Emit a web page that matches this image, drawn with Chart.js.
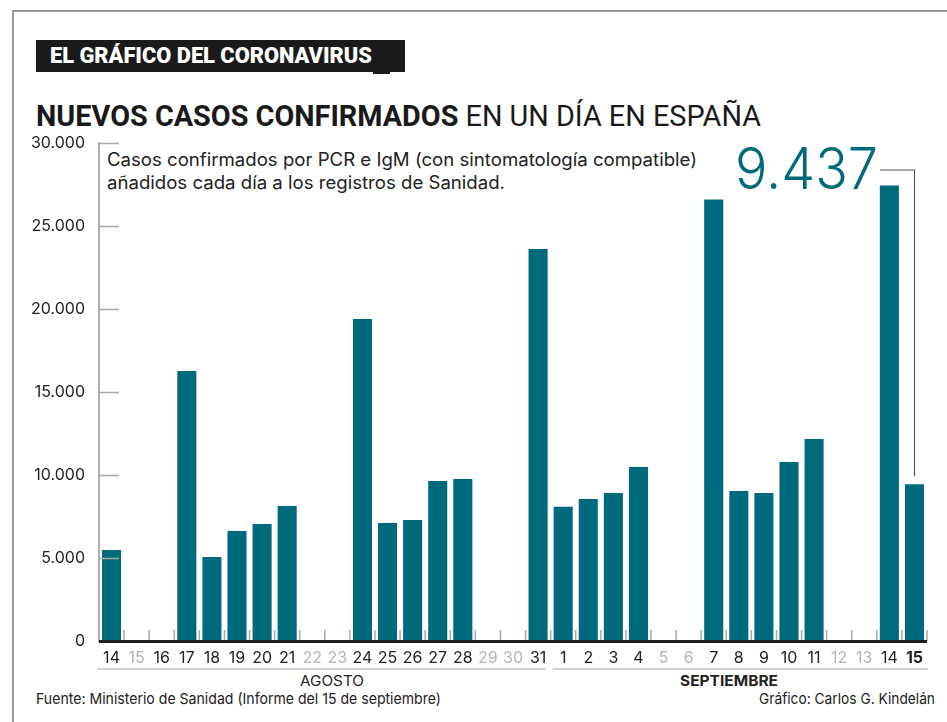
<!DOCTYPE html>
<html>
<head>
<meta charset="utf-8">
<script src="https://cdn.jsdelivr.net/npm/chart.js@4/dist/chart.umd.min.js"></script>
<style>
  html,body{margin:0;padding:0;background:#fff;}
  #wrap{position:relative;width:947px;height:722px;overflow:hidden;font-family:Inter,Roboto,sans-serif;color:#222;}
  #c{position:absolute;left:0;top:0;}
  .abs{position:absolute;white-space:nowrap;}
  .fit{display:inline-block;transform-origin:0 0;}
</style>
</head>
<body>
<div id="wrap">
  <div class="abs" style="left:13px;top:10px;width:934px;height:0;border-top:2px solid #9a9a9a;"></div>
  <div class="abs" style="left:12px;top:10px;width:0;height:712px;border-left:2px solid #9a9a9a;"></div>
  <div class="abs" style="left:36px;top:40px;width:369px;height:32px;background:#1a1a1a;"></div>
  <div class="abs" style="left:373px;top:70px;width:17px;height:4px;background:#1a1a1a;"></div>
  <div class="abs" style="left:50px;top:43px;font-family:Roboto;font-weight:900;font-size:22px;color:#fff;line-height:26px;"><span class="fit" data-w="322">EL GRÁFICO DEL CORONAVIRUS</span></div>
  <div class="abs" style="left:36px;top:99px;font-family:Roboto;font-size:30px;line-height:34px;color:#1a1a1a;"><span class="fit" data-w="725"><b style="font-weight:700">NUEVOS CASOS CONFIRMADOS</b> EN UN DÍA EN ESPAÑA</span></div>
  <div class="abs" style="left:107px;top:148px;font-size:18px;line-height:23px;color:#222;"><span class="fit" data-w="590">Casos confirmados por PCR e IgM (con sintomatología compatible)<br>añadidos cada día a los registros de Sanidad.</span></div>
  <div class="abs" style="left:735px;top:134px;font-size:58px;line-height:68px;font-weight:300;color:#006a7d;"><span class="fit" data-w="143">9.437</span></div>
  <div class="abs" style="left:300px;top:672px;font-size:14px;line-height:18px;"><span class="fit" data-w="64">AGOSTO</span></div>
  <div class="abs" style="left:680px;top:671px;font-size:15px;line-height:19px;font-weight:700;"><span class="fit" data-w="98">SEPTIEMBRE</span></div>
  <div class="abs" style="left:36px;top:689px;font-size:15px;line-height:19px;"><span class="fit" data-w="405">Fuente: Ministerio de Sanidad (Informe del 15 de septiembre)</span></div>
  <div class="abs" style="left:759px;top:689px;font-size:15px;line-height:19px;"><span class="fit" data-w="176">Gráfico: Carlos G. Kindelán</span></div>
  <canvas id="c" width="947" height="722"></canvas>
</div>
<script>
// ---- data ----
const days = ['14','15','16','17','18','19','20','21','22','23','24','25','26','27','28','29','30','31',
              '1','2','3','4','5','6','7','8','9','10','11','12','13','14','15'];
const cases = [5480,0,0,16270,5060,6630,7050,8140,0,0,19400,7110,7290,9640,9760,0,0,23610,
               8080,8560,8920,10480,0,0,26600,9040,8920,10780,12170,0,0,27440,9437];
const noReportDay = [false,true,false,false,false,false,false,false,true,true,false,false,false,false,false,true,true,false,
                     false,false,false,false,true,true,false,false,false,false,false,true,true,false,false];
const yTicks = [0,5000,10000,15000,20000,25000,30000];
const augustDays = 18;

// fit text widths
document.querySelectorAll('.fit').forEach(el=>{
  const w = el.getBoundingClientRect().width;
  const t = +el.dataset.w;
  el.style.transform = 'scaleX(' + (t/w) + ')';
});

const fmt = v => v.toLocaleString('de-DE');
const TEAL = '#006a7d';

const decor = {
  id:'decor',
  afterDraw(chart){
    const {ctx, chartArea:a, scales:{x,y}} = chart;
    ctx.save();
    ctx.strokeStyle = '#a8a8a8';
    ctx.lineWidth = 1.5;
    // y tick marks inside
    yTicks.forEach(v=>{
      if(v===0) return;
      const py = Math.round(y.getPixelForValue(v))+0.5;
      ctx.beginPath(); ctx.moveTo(a.left, py); ctx.lineTo(a.left+20, py); ctx.stroke();
    });
    // category separators
    const step = (a.right-a.left)/days.length;
    for(let i=1;i<=days.length;i++){
      const px = a.left + i*step;
      ctx.beginPath(); ctx.moveTo(px, a.bottom-11); ctx.lineTo(px, a.bottom); ctx.stroke();
    }
    // month lines
    ctx.strokeStyle = '#d2d2d2'; ctx.lineWidth = 2;
    const bnd = a.left + augustDays*step;
    ctx.beginPath(); ctx.moveTo(a.left-2, 669); ctx.lineTo(bnd-5, 669); ctx.stroke();
    ctx.beginPath(); ctx.moveTo(bnd+2, 669); ctx.lineTo(a.right+1, 669); ctx.stroke();
    // baseline
    ctx.strokeStyle = '#1e1e1e'; ctx.lineWidth = 3;
    ctx.beginPath(); ctx.moveTo(a.left, a.bottom+0.5); ctx.lineTo(a.right, a.bottom+0.5); ctx.stroke();
    // connector to last bar
    const last = days.length-1;
    const bx = Math.round(x.getPixelForValue(last))+0.5;
    const by = y.getPixelForValue(cases[last]);
    ctx.strokeStyle = '#555'; ctx.lineWidth = 1.2;
    ctx.beginPath(); ctx.moveTo(880, 170); ctx.lineTo(bx, 170); ctx.lineTo(bx, by-8); ctx.stroke();
    ctx.restore();
  }
};

new Chart(document.getElementById('c'), {
  type:'bar',
  data:{ labels: days, datasets:[{ data: cases, backgroundColor: TEAL, barPercentage:0.76, categoryPercentage:1 }]},
  options:{
    responsive:false, animation:false,
    layout:{ padding:{ left:0, right:20, top:143, bottom:0 } },
    plugins:{ legend:{display:false}, tooltip:{enabled:false} },
    scales:{
      x:{
        grid:{ display:false, drawTicks:false },
        border:{ display:false },
        ticks:{
          padding:8,
          autoSkip:false, maxRotation:0,
          color: c => noReportDay[c.index] ? '#b4b4b4' : '#222',
          font: c => ({ family:'Inter', size:16, weight: c.index===days.length-1 ? '700' : '400' })
        },
        afterFit: s => { s.height = 81; }
      },
      y:{
        min:0, max:30000,
        afterBuildTicks: s => { s.ticks = yTicks.map(v=>({value:v})); },
        grid:{ display:false, drawTicks:false },
        border:{ display:true, color:'#b0b0b0', width:2 },
        ticks:{ padding:14, color:'#222', font:{ family:'Inter', size:16 }, callback: v => fmt(v) },
        afterFit: s => { s.width = 99; }
      }
    }
  },
  plugins:[decor]
});
</script>
</body>
</html>
